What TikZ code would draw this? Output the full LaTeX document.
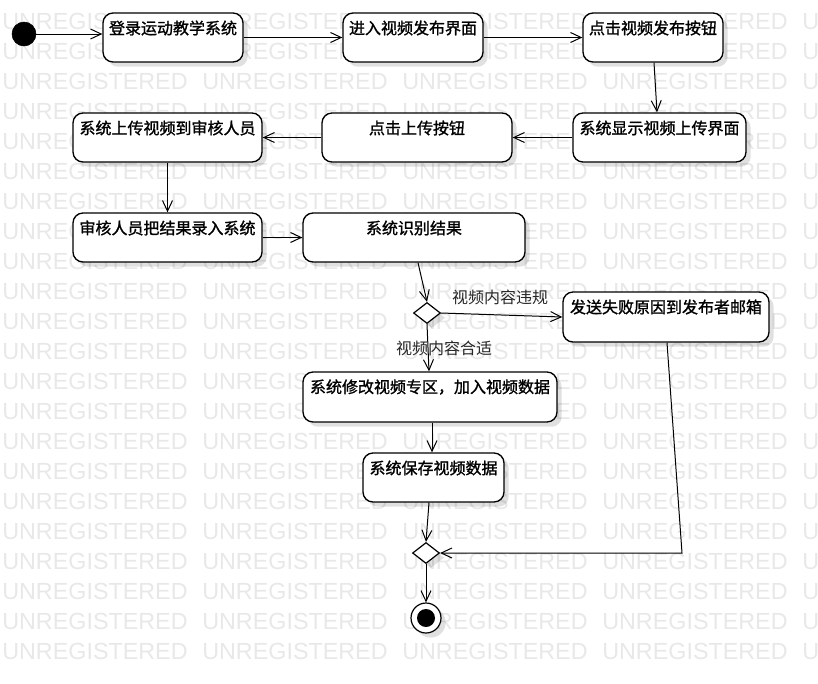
\documentclass[tikz,border=0pt]{standalone}
\usepackage{fontspec}
\setmainfont{Liberation Sans}
\newfontfamily\cjk{Noto Sans CJK SC}
\newfontfamily\cjkb[FakeBold=1.3]{Noto Sans CJK SC}
\usetikzlibrary{arrows.meta,shadows,shapes.geometric,calc}
\newcommand{\mkact}[6]{%
  \pgfmathsetmacro{\cxa}{(#2+#4)/2}%
  \pgfmathsetmacro{\cya}{(#3+#5)/2}%
  \pgfmathsetmacro{\wa}{(#4-#2)*0.75}%
  \pgfmathsetmacro{\ha}{(#5-#3)*0.75}%
  \node[actbox, minimum width=\wa pt, minimum height=\ha pt] (#1) at (\cxa,\cya) {};
  \node[acttext] (#1-t) at (\cxa,#3+15) {#6};
}
\begin{document}
\begin{tikzpicture}[x=0.75pt,y=-0.75pt,
  shd/.style={drop shadow={shadow xshift=3.5pt, shadow yshift=-3.5pt, opacity=0.12, fill=black}},
  actbox/.style={draw=black, line width=1pt, rounded corners=7.5pt, fill=white, inner sep=0pt, shd},
  acttext/.style={inner sep=0pt, font=\cjkb\fontsize{12}{14}\selectfont},
  guardlbl/.style={inner sep=0pt, text=black!85, font=\cjk\fontsize{12}{14}\selectfont},
  wm/.style={inner sep=0pt, anchor=base west, text=black!9, font=\fontsize{17.5}{20}\selectfont},
  flow/.style={draw=black, line width=0.75pt, -{Straight Barb[length=8pt,width=7.5pt]}},
  decis/.style={diamond, draw=black, line width=0.9pt, fill=white, inner sep=0pt, minimum width=20.25pt, minimum height=15.75pt, shd},
  initst/.style={circle, fill=black, draw=black, inner sep=0pt, minimum size=18pt},
  finout/.style={circle, fill=white, draw=black, line width=0.9pt, inner sep=0pt, minimum size=22.5pt, shd},
  finin/.style={circle, fill=black, inner sep=0pt, minimum size=13.5pt}
]
\useasboundingbox (0,0) rectangle (818,683);
\begin{scope}
\clip (0,0) rectangle (818,683);
\foreach \r in {0,...,21}{
  \foreach \c in {0,...,4}{
    \node[wm] (wm-\r-\c) at (2+200*\c, 29.5+30*\r) {UNREGISTERED};
  }
}
\end{scope}

\node[initst] (init) at (24,34) {};

\mkact{b1}{103}{13}{243}{62}{登录运动教学系统}
\mkact{b2}{343}{13}{483}{62}{进入视频发布界面}
\mkact{b3}{583}{13}{723}{62}{点击视频发布按钮}
\mkact{b4}{573}{113}{746}{162}{系统显示视频上传界面}
\mkact{b5}{322}{113}{512}{162}{点击上传按钮}
\mkact{b6}{73}{113}{262}{162}{系统上传视频到审核人员}
\mkact{b7}{73}{213}{262}{262}{审核人员把结果录入系统}
\mkact{b8}{303}{213}{525}{262}{系统识别结果}
\mkact{b9}{563}{292}{769}{342}{发送失败原因到发布者邮箱}
\mkact{b10}{303}{372}{557}{422}{系统修改视频专区，加入视频数据}
\mkact{b11}{363}{453}{504}{502}{系统保存视频数据}

\node[decis] (d1) at (427,313) {};
\node[decis] (d2) at (426,553) {};
\node[finout] (fin) at (426,618) {};
\node[finin] (finc) at (426,618) {};

\draw[flow] (init.east) -- (b1.west |- init.east);
\draw[flow] (b1.east) -- (b2.west);
\draw[flow] (b2.east) -- (b3.west);
\draw[flow] ($(b3.south)+(1,0)$) -- ($(b4.north)+(-2.5,0)$);
\draw[flow] (b4.west) -- (b5.east);
\draw[flow] (b5.west) -- (b6.east);
\draw[flow] (b6.south) -- (b7.north);
\draw[flow] (b7.east) -- (b8.west);
\draw[flow] ($(b8.south)+(4,0)$) -- (d1.north);
\draw[flow] (d1.east) -- (b9.west);
\draw[flow] (d1.south) -- ($(b10.north)+(-1,0)$);
\draw[flow] ($(b10.south)+(2,0)$) -- ($(b11.north)+(-1.5,0)$);
\draw[flow] ($(b11.south)+(-4.5,0)$) -- (d2.north);
\coordinate (c1) at (682,553);
\draw[flow] ($(b9.south)+(1,0)$) -- (c1) -- (d2.east);
\draw[flow] (d2.south) -- (fin.north);

\node[guardlbl] (g1) at (500,297) {视频内容违规};
\node[guardlbl] (g2) at (444,348) {视频内容合适};
\end{tikzpicture}
\end{document}
